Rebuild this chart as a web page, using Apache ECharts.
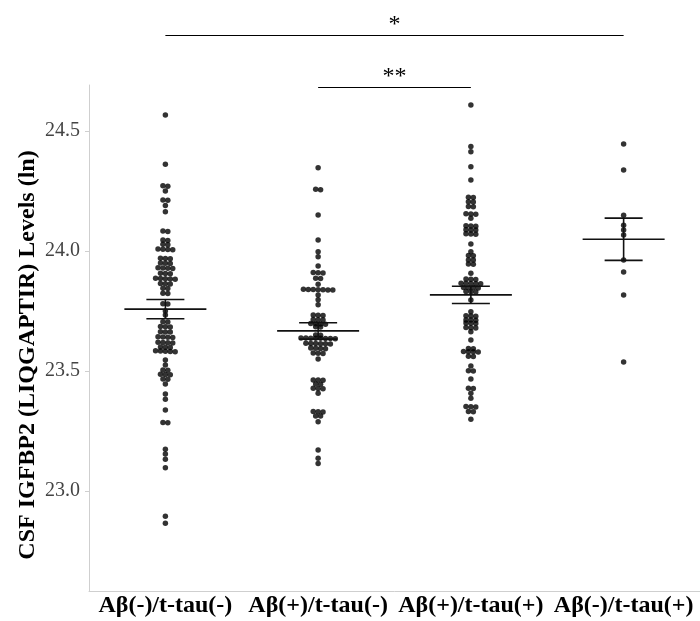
<!DOCTYPE html>
<html><head><meta charset="utf-8">
<script src="https://cdn.jsdelivr.net/npm/echarts@6/dist/echarts.min.js"></script>
<style>html,body{margin:0;padding:0;background:#fff}#c{width:700px;height:621px}</style>
</head><body><div id="c"></div>
<script>
const categories = ['Aβ(-)/t-tau(-)', 'Aβ(+)/t-tau(-)', 'Aβ(+)/t-tau(+)', 'Aβ(-)/t-tau(+)'];
const yTicks = [23.0, 23.5, 24.0, 24.5];
const yTitle = 'CSF IGFBP2 (LIQGAPTIR) Levels (ln)';

const group1 = [24.567, 24.362, 24.272, 24.270, 24.250, 24.213, 24.211, 24.190, 24.164,
  24.083, 24.081, 24.046, 24.044, 24.028, 24.026, 24.008, 24.007, 24.006, 24.005,
  23.970, 23.969, 23.968, 23.950, 23.949, 23.948, 23.930, 23.929, 23.928, 23.927,
  23.907, 23.906, 23.905, 23.886, 23.885, 23.884, 23.883, 23.882, 23.865, 23.864, 23.863,
  23.845, 23.844, 23.824, 23.823, 23.780, 23.779, 23.750, 23.733, 23.705, 23.704,
  23.685, 23.684, 23.683, 23.664, 23.663, 23.662, 23.643, 23.642, 23.641, 23.640,
  23.620, 23.619, 23.618, 23.617, 23.600, 23.599, 23.598, 23.584, 23.583, 23.582, 23.581, 23.580,
  23.546, 23.525, 23.504, 23.503, 23.486, 23.485, 23.484, 23.467, 23.466, 23.446,
  23.404, 23.382, 23.338, 23.285, 23.284, 23.174, 23.154, 23.132, 23.097, 22.895, 22.866];

const group2 = [24.347, 24.257, 24.255, 24.150, 24.046, 23.997, 23.976, 23.937,
  23.910, 23.909, 23.908, 23.886, 23.885, 23.861,
  23.841, 23.840, 23.840, 23.839, 23.839, 23.838, 23.838, 23.817, 23.797, 23.776,
  23.733, 23.732, 23.731, 23.715, 23.714, 23.713, 23.698, 23.697, 23.696, 23.695,
  23.684, 23.683, 23.650, 23.649,
  23.637, 23.637, 23.636, 23.636, 23.636, 23.635, 23.635, 23.634,
  23.616, 23.615, 23.615, 23.614, 23.614, 23.613,
  23.596, 23.595, 23.594, 23.593, 23.575, 23.574, 23.573, 23.550,
  23.463, 23.462, 23.461, 23.446, 23.445, 23.428, 23.427, 23.426, 23.407,
  23.331, 23.330, 23.329, 23.313, 23.312, 23.289, 23.171, 23.136, 23.115];

const group3 = [24.608, 24.435, 24.414, 24.351, 24.296, 24.224, 24.223, 24.205, 24.204,
  24.185, 24.184, 24.155, 24.154, 24.153, 24.136, 24.105, 24.104, 24.103,
  24.089, 24.088, 24.087, 24.072, 24.071, 24.070, 24.029, 23.997, 23.981, 23.980,
  23.963, 23.962, 23.946, 23.945, 23.907, 23.883, 23.882, 23.881,
  23.866, 23.866, 23.865, 23.864, 23.864, 23.848, 23.847, 23.847, 23.846,
  23.831, 23.830, 23.829, 23.796, 23.747, 23.730, 23.729, 23.728,
  23.713, 23.712, 23.711, 23.700, 23.699, 23.698, 23.681, 23.680, 23.679, 23.664,
  23.629, 23.594, 23.593, 23.581, 23.580, 23.580, 23.579, 23.561, 23.560,
  23.521, 23.501, 23.500, 23.467, 23.428, 23.427, 23.407, 23.386,
  23.352, 23.351, 23.350, 23.331, 23.330, 23.299];

const group4 = [24.446, 24.338, 24.149, 24.107, 24.088, 24.067, 23.963, 23.913, 23.817, 23.538];

const means = [23.758, 23.667, 23.817, 24.049];
const sems = [0.040, 0.034, 0.036, 0.088];
const brackets = [{from: 0, to: 3, label: '*'}, {from: 1, to: 2, label: '**'}];

const groups = [group1, group2, group3, group4];
const serif = "'Liberation Serif', 'Times New Roman', serif";

const chart = echarts.init(document.getElementById('c'));
chart.setOption({
  animation: false,
  grid: {left: 89, right: 0, top: 85, bottom: 30, containLabel: false},
  xAxis: {
    type: 'value', min: -0.5, max: 3.5,
    axisLine: {show: true, onZero: false, lineStyle: {color: '#cfcfcf', width: 1}},
    axisTick: {show: false}, splitLine: {show: false},
    axisLabel: {customValues: [0, 1, 2, 3], formatter: v => categories[Math.round(v)],
      fontFamily: serif, fontWeight: 'bold', fontSize: 24, color: '#000', margin: 3}
  },
  yAxis: {
    type: 'value', min: 22.5833, max: 24.6917,
    axisLine: {show: true, onZero: false, lineStyle: {color: '#cfcfcf', width: 1}},
    axisTick: {show: true, customValues: yTicks, length: 4, lineStyle: {color: '#cfcfcf'}},
    splitLine: {show: false},
    axisLabel: {customValues: yTicks, formatter: v => v.toFixed(1),
      fontFamily: serif, fontSize: 20, color: '#444', margin: 9}
  },
  series: []
});

const unit = chart.convertToPixel({gridIndex: 0}, [1, 24])[0] - chart.convertToPixel({gridIndex: 0}, [0, 24])[0];
const spacing = 4.9;
const pts = [];
groups.forEach((g, gi) => {
  const items = g.map(v => ({v, py: chart.convertToPixel({gridIndex: 0}, [gi, v])[1]}))
    .sort((a, b) => a.py - b.py);
  const rows = [];
  let cur = null;
  items.forEach(it => {
    if (!cur || it.py - cur[0].py > 2.5) { cur = [it]; rows.push(cur); } else cur.push(it);
  });
  rows.forEach(r => {
    const k = r.length;
    r.forEach((it, i) => {
      const off = (i - (k - 1) / 2) * spacing;
      pts.push([gi + off / unit, it.v]);
    });
  });
});

const graphics = [];
const bracketY = [35.5, 87.5];
brackets.forEach((b, bi) => {
  const x1 = chart.convertToPixel({gridIndex: 0}, [b.from, 24])[0];
  const x2 = chart.convertToPixel({gridIndex: 0}, [b.to, 24])[0];
  const y = bracketY[bi];
  graphics.push({type: 'line', shape: {x1, y1: y, x2, y2: y}, style: {stroke: '#000', lineWidth: 1}});
  graphics.push({type: 'text', x: (x1 + x2) / 2, y: y + 1,
    style: {text: b.label, font: '24px ' + serif, fill: '#000', textAlign: 'center', textVerticalAlign: 'bottom'}});
});
graphics.push({type: 'text', x: 28, y: 355, rotation: Math.PI / 2,
  style: {text: yTitle, font: 'bold 24px ' + serif, fill: '#000', textAlign: 'center', textVerticalAlign: 'middle'}});

chart.setOption({
  graphic: graphics,
  series: [
    {type: 'scatter', data: pts, symbolSize: 5.5, itemStyle: {color: '#000'}, z: 2, silent: true},
    {type: 'custom', z: 3, silent: true,
      data: means.map((m, i) => [i, m, sems[i]]),
      encode: {x: 0, y: 1},
      renderItem: (params, api) => {
        const i = api.value(0), m = api.value(1), s = api.value(2);
        const c = api.coord([i, m]), t = api.coord([i, m + s]), b = api.coord([i, m - s]);
        const st = {stroke: '#111', lineWidth: 1.6};
        return {type: 'group', children: [
          {type: 'line', shape: {x1: c[0] - 41, y1: c[1], x2: c[0] + 41, y2: c[1]}, style: st},
          {type: 'line', shape: {x1: t[0] - 19, y1: t[1], x2: t[0] + 19, y2: t[1]}, style: st},
          {type: 'line', shape: {x1: b[0] - 19, y1: b[1], x2: b[0] + 19, y2: b[1]}, style: st},
          {type: 'line', shape: {x1: c[0], y1: t[1], x2: c[0], y2: b[1]}, style: st}
        ]};
      }}
  ]
});
</script>
</body></html>
